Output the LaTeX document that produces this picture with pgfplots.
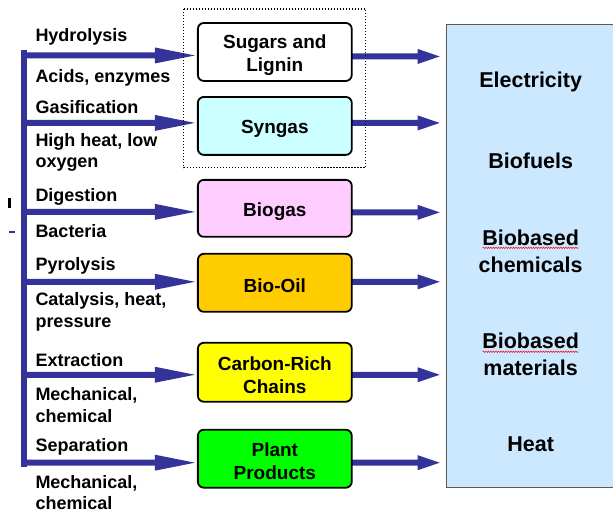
\documentclass[border=0pt]{standalone}
\usepackage{fontspec}
\setmainfont{Liberation Sans}
\usepackage{pgfplots}
\pgfplotsset{compat=1.18}
\usetikzlibrary{decorations.pathmorphing}

\definecolor{arrowblue}{HTML}{333399}
\definecolor{outbox}{HTML}{CCE8FF}
\definecolor{syngas}{HTML}{CCFFFF}
\definecolor{biogas}{HTML}{FFCCFF}
\definecolor{biooil}{HTML}{FFCC00}
\definecolor{carbon}{HTML}{FFFF00}
\definecolor{plant}{HTML}{00FF00}

\newcommand\lab{\fontsize{18}{21.5}\selectfont\bfseries}
\newcommand\boxf{\fontsize{19}{23}\selectfont\bfseries}
\newcommand\outf{\fontsize{21.5}{27}\selectfont\bfseries}
\tikzset{
    lbl/.style={anchor=west, font=\lab, align=left, yshift=-2.5pt},
    bxt/.style={font=\boxf, align=center, yshift=-2.5pt},
    prod/.style={font=\outf, align=center, yshift=-1.5pt},
}

\begin{document}
\begin{tikzpicture}
\begin{axis}[
    width=613pt, height=510pt, scale only axis,
    xmin=0, xmax=613, ymin=0, ymax=510,
    y dir=reverse,
    hide axis,
    clip=false,
]
% frame of the picture
\addplot[draw=none] coordinates {(0,0) (613,510)};

% output panel
\addplot[fill=outbox, draw=none] coordinates {(447,24) (613,24) (613,488) (447,488)} -- cycle;
\addplot[draw=black!65, line width=0.8pt] coordinates {(613,24) (447,24) (447,488) (613,488)};

% trunk
\addplot[fill=arrowblue, draw=none] coordinates {(21,50) (27,50) (27,467) (21,467)} -- cycle;

% arrows into the product boxes
\addplot[fill=arrowblue, draw=none] coordinates {(24,52.5) (155,52.5) (155,47.5) (195,55.5) (155,63.5) (155,58.5) (24,58.5)} -- cycle;
\addplot[fill=arrowblue, draw=none] coordinates {(24,120) (155,120) (155,115) (195,123) (155,131) (155,126) (24,126)} -- cycle;
\addplot[fill=arrowblue, draw=none] coordinates {(24,209) (155,209) (155,204) (195,212) (155,220) (155,215) (24,215)} -- cycle;
\addplot[fill=arrowblue, draw=none] coordinates {(24,279) (155,279) (155,274) (195,282) (155,290) (155,285) (24,285)} -- cycle;
\addplot[fill=arrowblue, draw=none] coordinates {(24,372) (155,372) (155,367) (195,375) (155,383) (155,378) (24,378)} -- cycle;
\addplot[fill=arrowblue, draw=none] coordinates {(24,460) (155,460) (155,455) (195,463) (155,471) (155,466) (24,466)} -- cycle;

% arrows into the output panel
\addplot[fill=arrowblue, draw=none] coordinates {(352,53.5) (418,53.5) (418,49) (440,56.5) (418,64) (418,59.5) (352,59.5)} -- cycle;
\addplot[fill=arrowblue, draw=none] coordinates {(352,120) (418,120) (418,115.5) (440,123) (418,130.5) (418,126) (352,126)} -- cycle;
\addplot[fill=arrowblue, draw=none] coordinates {(352,209.5) (418,209.5) (418,205) (440,212.5) (418,220) (418,215.5) (352,215.5)} -- cycle;
\addplot[fill=arrowblue, draw=none] coordinates {(352,279) (418,279) (418,274.5) (440,282) (418,289.5) (418,285) (352,285)} -- cycle;
\addplot[fill=arrowblue, draw=none] coordinates {(352,372) (418,372) (418,367.5) (440,375) (418,382.5) (418,378) (352,378)} -- cycle;
\addplot[fill=arrowblue, draw=none] coordinates {(352,460) (418,460) (418,455.5) (440,463) (418,470.5) (418,466) (352,466)} -- cycle;

% product boxes
\addplot[fill=white, draw=black, line width=1.8pt, rounded corners=6pt] coordinates {(275,23) (352,23) (352,81) (198,81) (198,23)} -- cycle;
\addplot[fill=syngas, draw=black, line width=1.8pt, rounded corners=6pt] coordinates {(275,97) (352,97) (352,155) (198,155) (198,97)} -- cycle;
\addplot[fill=biogas, draw=black, line width=1.8pt, rounded corners=6pt] coordinates {(275,180) (352,180) (352,237) (198,237) (198,180)} -- cycle;
\addplot[fill=biooil, draw=black, line width=1.8pt, rounded corners=6pt] coordinates {(275,254) (352,254) (352,312) (198,312) (198,254)} -- cycle;
\addplot[fill=carbon, draw=black, line width=1.8pt, rounded corners=6pt] coordinates {(275,343) (352,343) (352,402) (198,402) (198,343)} -- cycle;
\addplot[fill=plant, draw=black, line width=1.8pt, rounded corners=6pt] coordinates {(275,430) (352,430) (352,488) (198,488) (198,430)} -- cycle;

% dotted group frame
\addplot[black, line width=1.1pt, dash pattern=on 1.3pt off 1.7pt] coordinates {(184,9) (366,9) (366,168) (184,168)} -- cycle;

% stray marks at the left edge
\addplot[fill=black, draw=none] coordinates {(8.5,198) (11.5,198) (11.5,208) (8.5,208)} -- cycle;
\addplot[arrowblue, line width=1.5pt] coordinates {(9,232) (15,232)};

% spell-check underlines
\addplot[red, line width=0.5pt, decorate, decoration={snake, amplitude=0.7pt, segment length=2.5pt}] coordinates {(483,248) (579,248)};
\addplot[red, line width=0.5pt, decorate, decoration={snake, amplitude=0.7pt, segment length=2.5pt}] coordinates {(483,352) (579,352)};

% process labels
\node[lbl] at (axis cs:32,34) {Hydrolysis};
\node[lbl] at (axis cs:32,75) {Acids, enzymes};
\node[lbl] at (axis cs:32,105) {Gasification};
\node[lbl] at (axis cs:32,150) {High heat, low\\oxygen};
\node[lbl] at (axis cs:32,195) {Digestion};
\node[lbl] at (axis cs:32,229) {Bacteria};
\node[lbl] at (axis cs:32,264) {Pyrolysis};
\node[lbl] at (axis cs:32,309.5) {Catalysis, heat,\\pressure};
\node[lbl] at (axis cs:32,358) {Extraction};
\node[lbl] at (axis cs:32,403) {Mechanical,\\chemical};
\node[lbl] at (axis cs:32,445) {Separation};
\node[lbl] at (axis cs:32,490.5) {Mechanical,\\chemical};

% box labels
\node[bxt] at (axis cs:275,52.5) {Sugars and\\Lignin};
\node[bxt] at (axis cs:275,126) {Syngas};
\node[bxt] at (axis cs:275,209) {Biogas};
\node[bxt] at (axis cs:275,283) {Bio-Oil};
\node[bxt] at (axis cs:275,372.5) {Carbon-Rich\\Chains};
\node[bxt] at (axis cs:275,459) {Plant\\Products};

% output labels
\node[prod] at (axis cs:531,80) {Electricity};
\node[prod] at (axis cs:531,159) {Biofuels};
\node[prod] at (axis cs:531,249.5) {Biobased\\chemicals};
\node[prod] at (axis cs:531,353.5) {Biobased\\materials};
\node[prod] at (axis cs:531,443) {Heat};
\end{axis}
\end{tikzpicture}
\end{document}
